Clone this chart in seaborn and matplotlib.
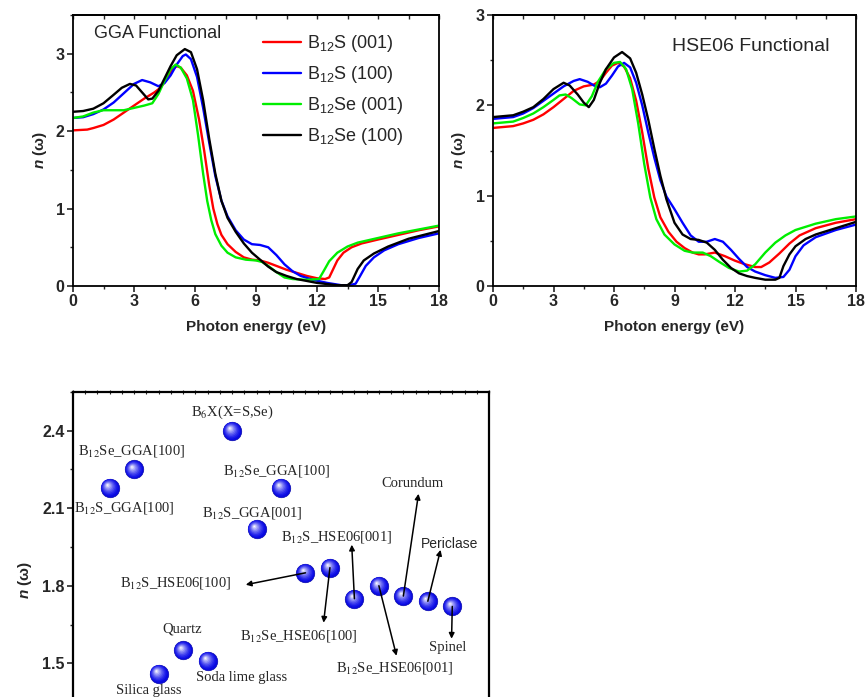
import numpy as np
import pandas as pd
import matplotlib
matplotlib.use("Agg")
import matplotlib.pyplot as plt
import seaborn as sns
from matplotlib.transforms import offset_copy
from matplotlib.ticker import MultipleLocator
from matplotlib.lines import Line2D

# ---------------- data ----------------
series_names = ["B$_{12}$S (001)", "B$_{12}$S (100)", "B$_{12}$Se (001)", "B$_{12}$Se (100)"]
series_colors = ["#ff0000", "#0000ff", "#00ee00", "#000000"]

# GGA functional
gga_red_x = [0, 0.7, 1.0, 1.5, 2.0, 2.5, 3.0, 3.5, 4.0, 4.3, 4.6, 4.9, 5.1, 5.3, 5.6, 5.9, 6.2, 6.45, 6.7, 6.9, 7.1, 7.3, 7.6, 8.0, 8.4, 8.8, 9.2, 9.6, 10, 10.5, 11, 11.5, 12, 12.4, 12.6, 12.8, 13.0, 13.3, 13.7, 14.2, 15, 16, 17, 18]
gga_red_y = [2.01, 2.02, 2.04, 2.08, 2.15, 2.24, 2.33, 2.42, 2.50, 2.56, 2.67, 2.80, 2.84, 2.82, 2.72, 2.52, 2.15, 1.75, 1.30, 1.00, 0.80, 0.66, 0.54, 0.44, 0.37, 0.34, 0.33, 0.30, 0.26, 0.21, 0.17, 0.13, 0.10, 0.09, 0.11, 0.22, 0.33, 0.43, 0.50, 0.55, 0.60, 0.66, 0.72, 0.77]
gga_blue_x = [0, 0.5, 1.0, 1.5, 2.0, 2.5, 3.0, 3.4, 3.8, 4.2, 4.5, 4.8, 5.1, 5.4, 5.55, 5.8, 6.1, 6.4, 6.7, 7.0, 7.3, 7.6, 8.0, 8.4, 8.8, 9.2, 9.6, 10.0, 10.4, 10.8, 11.2, 11.8, 12.5, 13.2, 13.6, 13.9, 14.1, 14.4, 14.8, 15.3, 16, 17, 18]
gga_blue_y = [2.17, 2.18, 2.22, 2.28, 2.37, 2.49, 2.61, 2.66, 2.63, 2.58, 2.62, 2.72, 2.86, 2.97, 2.99, 2.93, 2.70, 2.30, 1.85, 1.42, 1.10, 0.90, 0.72, 0.60, 0.54, 0.53, 0.50, 0.40, 0.28, 0.19, 0.13, 0.08, 0.04, 0.01, 0.01, 0.03, 0.12, 0.26, 0.37, 0.46, 0.54, 0.62, 0.68]
gga_green_x = [0, 0.5, 1.0, 1.5, 2.0, 2.5, 3.0, 3.5, 3.9, 4.2, 4.5, 4.8, 5.05, 5.3, 5.6, 5.9, 6.15, 6.4, 6.6, 6.8, 7.0, 7.3, 7.6, 8.0, 8.5, 9.0, 9.3, 9.6, 10, 10.4, 10.8, 11.5, 12.1, 12.3, 12.6, 13.0, 13.5, 14, 15, 16, 17, 18]
gga_green_y = [2.17, 2.19, 2.24, 2.27, 2.27, 2.27, 2.30, 2.33, 2.36, 2.48, 2.65, 2.80, 2.86, 2.82, 2.68, 2.40, 1.95, 1.45, 1.10, 0.85, 0.67, 0.52, 0.43, 0.37, 0.34, 0.33, 0.31, 0.26, 0.18, 0.11, 0.09, 0.08, 0.09, 0.18, 0.32, 0.43, 0.51, 0.56, 0.62, 0.68, 0.73, 0.78]
gga_black_x = [0, 0.5, 1.0, 1.5, 2.0, 2.4, 2.8, 3.1, 3.4, 3.7, 3.9, 4.2, 4.5, 4.8, 5.1, 5.5, 5.8, 6.1, 6.4, 6.7, 7.0, 7.3, 7.6, 8.0, 8.4, 8.8, 9.2, 9.6, 10.0, 10.5, 11, 12, 13, 13.5, 13.7, 14.0, 14.3, 14.8, 15.5, 16.5, 18]
gga_black_y = [2.25, 2.26, 2.29, 2.36, 2.47, 2.56, 2.61, 2.59, 2.50, 2.41, 2.42, 2.52, 2.68, 2.84, 2.98, 3.06, 3.02, 2.80, 2.40, 1.90, 1.45, 1.10, 0.88, 0.70, 0.55, 0.43, 0.34, 0.25, 0.18, 0.13, 0.09, 0.04, 0.01, 0.01, 0.05, 0.22, 0.33, 0.42, 0.51, 0.61, 0.71]

# HSE06 functional
hse_red_x = [0, 1, 1.5, 2, 2.5, 3, 3.5, 4.0, 4.5, 5.0, 5.3, 5.6, 5.9, 6.2, 6.5, 6.8, 7.1, 7.4, 7.7, 8.0, 8.3, 8.7, 9.1, 9.5, 9.9, 10.2, 10.5, 11.0, 11.5, 12.0, 12.5, 13.0, 13.3, 13.7, 14.2, 14.7, 15.2, 16, 17, 18]
hse_red_y = [1.75, 1.77, 1.80, 1.84, 1.90, 1.98, 2.07, 2.16, 2.21, 2.23, 2.27, 2.36, 2.44, 2.47, 2.43, 2.30, 2.05, 1.70, 1.30, 0.98, 0.76, 0.60, 0.49, 0.42, 0.37, 0.35, 0.35, 0.37, 0.33, 0.28, 0.24, 0.21, 0.21, 0.26, 0.36, 0.47, 0.56, 0.64, 0.70, 0.74]
hse_blue_x = [0, 1, 1.5, 2, 2.5, 3.0, 3.5, 4.0, 4.3, 4.7, 5.0, 5.3, 5.6, 5.9, 6.2, 6.5, 6.8, 7.1, 7.4, 7.7, 8.0, 8.3, 8.6, 9.0, 9.4, 9.8, 10.2, 10.6, 11.0, 11.4, 11.8, 12.2, 12.6, 13.0, 13.5, 14.0, 14.4, 14.7, 15.0, 15.4, 16, 17, 18]
hse_blue_y = [1.85, 1.87, 1.91, 1.97, 2.05, 2.13, 2.21, 2.27, 2.29, 2.26, 2.22, 2.20, 2.24, 2.33, 2.43, 2.47, 2.42, 2.25, 2.00, 1.70, 1.42, 1.17, 0.99, 0.85, 0.70, 0.56, 0.49, 0.49, 0.52, 0.49, 0.40, 0.30, 0.21, 0.16, 0.12, 0.09, 0.10, 0.18, 0.33, 0.45, 0.54, 0.62, 0.68]
hse_green_x = [0, 1, 1.5, 2, 2.5, 3.0, 3.3, 3.6, 3.9, 4.3, 4.6, 4.9, 5.2, 5.6, 6.0, 6.3, 6.6, 6.9, 7.2, 7.5, 7.8, 8.1, 8.5, 9.0, 9.5, 9.9, 10.4, 10.8, 11.2, 11.7, 12.2, 12.6, 13.0, 13.5, 14.0, 14.5, 15, 16, 17, 18]
hse_green_y = [1.80, 1.82, 1.86, 1.91, 1.98, 2.06, 2.11, 2.12, 2.08, 2.01, 2.00, 2.10, 2.26, 2.40, 2.47, 2.48, 2.40, 2.18, 1.80, 1.35, 0.98, 0.74, 0.57, 0.46, 0.39, 0.37, 0.37, 0.33, 0.27, 0.20, 0.16, 0.17, 0.24, 0.37, 0.48, 0.56, 0.62, 0.69, 0.74, 0.77]
hse_black_x = [0, 1, 1.5, 2, 2.5, 3.0, 3.5, 3.8, 4.2, 4.5, 4.75, 5.0, 5.3, 5.6, 6.0, 6.4, 6.8, 7.1, 7.4, 7.7, 8.0, 8.3, 8.6, 9.0, 9.4, 9.8, 10.2, 10.6, 11.0, 11.4, 11.8, 12.2, 12.6, 13.0, 13.5, 14.0, 14.2, 14.4, 14.7, 15.0, 15.5, 16, 17, 18]
hse_black_y = [1.87, 1.89, 1.93, 1.98, 2.07, 2.18, 2.25, 2.22, 2.12, 2.03, 1.98, 2.06, 2.25, 2.40, 2.53, 2.59, 2.52, 2.36, 2.12, 1.84, 1.52, 1.22, 0.96, 0.70, 0.57, 0.52, 0.51, 0.48, 0.40, 0.29, 0.20, 0.14, 0.11, 0.09, 0.07, 0.07, 0.09, 0.22, 0.35, 0.44, 0.52, 0.57, 0.64, 0.71]

# refractive-index comparison
mat_x = [1, 2, 3, 4, 5, 6, 7, 8, 9, 10, 11, 12, 13, 14, 15]
mat_n = [2.18, 2.25, 1.46, 1.55, 1.51, 2.40, 2.02, 2.18, 1.85, 1.87, 1.75, 1.80, 1.76, 1.74, 1.72]

# plain labels (text position only)
plain_labels = ["B$_{6}$X(X=S,Se)", "B$_{12}$Se_GGA[100]", "B$_{12}$S_GGA[100]", "B$_{12}$Se_GGA[100]",
                "B$_{12}$S_GGA[001]", "Quartz", "Soda lime glass", "Silica glass"]
plain_label_x = [6.0, 1.91, 1.58, 7.83, 6.81, 3.95, 6.40, 2.60]
plain_label_y = [2.47, 2.32, 2.10, 2.245, 2.083, 1.633, 1.444, 1.393]

# arrowed labels: point index, arrow head, label position
arrow_labels = ["B$_{12}$S_HSE06[100]", "B$_{12}$Se_HSE06[100]", "B$_{12}$S_HSE06[001]",
                "B$_{12}$Se_HSE06[001]", "Corundum", "Periclase", "Spinel"]
arrow_point = [9, 10, 11, 12, 13, 14, 15]
arrow_head_x = [6.56, 9.74, 10.89, 12.72, 13.62, 14.52, 14.97]
arrow_head_y = [1.804, 1.657, 1.959, 1.529, 2.156, 1.939, 1.595]
arrow_label_x = [3.70, 8.72, 10.28, 12.64, 13.38, 14.89, 14.81]
arrow_label_y = [1.81, 1.606, 1.99, 1.483, 2.195, 1.963, 1.56]

# ---------------- style ----------------
sns.set_theme(style="ticks")
plt.rcParams["font.family"] = ["Liberation Sans", "DejaVu Sans"]
plt.rcParams["mathtext.fontset"] = "custom"
plt.rcParams["mathtext.rm"] = "Liberation Sans"
plt.rcParams["mathtext.it"] = "Liberation Sans:italic:bold"
plt.rcParams["mathtext.bf"] = "Liberation Sans:bold"
plt.rcParams["axes.linewidth"] = 1.3
plt.rcParams["axes.edgecolor"] = "black"

def make_df(xs, ys):
    frames = []
    for name, x, y in zip(series_names, xs, ys):
        frames.append(pd.DataFrame({"energy": x, "n": y, "series": name}))
    return pd.concat(frames, ignore_index=True)

df_gga = make_df([gga_red_x, gga_blue_x, gga_green_x, gga_black_x],
                 [gga_red_y, gga_blue_y, gga_green_y, gga_black_y])
df_hse = make_df([hse_red_x, hse_blue_x, hse_green_x, hse_black_x],
                 [hse_red_y, hse_blue_y, hse_green_y, hse_black_y])

W, H = 866, 697
fig = plt.figure(figsize=(W / 100, H / 100), dpi=100)
ax1 = fig.add_axes([73 / W, 1 - 286 / H, (439 - 73) / W, (286 - 15) / H])
ax2 = fig.add_axes([493 / W, 1 - 286 / H, (856 - 493) / W, (286 - 15) / H])
ax3 = fig.add_axes([73 / W, 1 - 702 / H, (489 - 73) / W, (702 - 392) / H])

palette = dict(zip(series_names, series_colors))

for ax, df, ymax in [(ax1, df_gga, 3.5), (ax2, df_hse, 3.0)]:
    sns.lineplot(data=df, x="energy", y="n", hue="series", hue_order=series_names,
                 palette=palette, estimator=None, sort=False, linewidth=1.7,
                 legend=False, ax=ax)
    for ln in ax.lines:
        ln.set_solid_joinstyle("round")
    ax.set_xlim(0, 18)
    ax.set_ylim(0, ymax)
    ax.xaxis.set_major_locator(MultipleLocator(3))
    ax.xaxis.set_minor_locator(MultipleLocator(1.5))
    ax.yaxis.set_major_locator(MultipleLocator(1))
    ax.yaxis.set_minor_locator(MultipleLocator(0.5))
    ax.tick_params(which="major", direction="out", length=4, width=1.2, labelsize=11.5, pad=2)
    ax.tick_params(which="minor", direction="out", length=2.5, width=1.0)
    for lab in ax.get_xticklabels() + ax.get_yticklabels():
        lab.set_fontweight("bold")
    ax.set_xlabel("Photon energy (eV)", fontsize=11, fontweight="bold")
    ax.set_ylabel(r"$n$ (ω)", fontsize=11, fontweight="bold")
    ax.xaxis.set_label_coords(0.5, -0.125)
    sec = ax.secondary_xaxis("top")
    sec.xaxis.set_major_locator(MultipleLocator(1.5))
    sec.tick_params(direction="in", length=3, width=1.0, labeltop=False)
    for sp in ax.spines.values():
        sp.set_visible(True)

ax1.yaxis.set_label_coords(-0.065, 0.5)
ax2.yaxis.set_label_coords(-0.068, 0.5)

ax1.text(0.23, 0.93, "GGA Functional", transform=ax1.transAxes, fontsize=13,
         ha="center", va="center")
ax2.text(0.71, 0.885, "HSE06 Functional", transform=ax2.transAxes, fontsize=14,
         ha="center", va="center")

handles = [Line2D([], [], color=c, lw=1.7) for c in series_colors]
ax1.legend(handles, series_names, loc="upper left", bbox_to_anchor=(0.49, 0.972),
           frameon=False, fontsize=13, handlelength=2.1, handletextpad=0.3,
           labelspacing=0.55, borderaxespad=0.2)

# ---------------- bottom panel ----------------
df_mat = pd.DataFrame({"x": mat_x, "n": mat_n})
sns.scatterplot(data=df_mat, x="x", y="n", s=180, color="#0a0ae0", edgecolor="#0000a0",
                linewidth=0.4, ax=ax3, zorder=3)
nl = 9
for i in range(1, nl):
    t = i / (nl - 1)
    size = 180 * (1 - 0.93 * t) ** 2
    col = np.array([0.04, 0.04, 0.88]) * (1 - t ** 1.4) + np.array([1, 1, 1]) * t ** 1.4
    col[2] = min(1.0, 0.9 + 0.1 * t)
    tr = offset_copy(ax3.transData, fig=fig, x=-1.6 * t, y=1.8 * t, units="points")
    ax3.scatter(mat_x, mat_n, s=size, color=col, edgecolor="none", transform=tr, zorder=3 + i)

ax3.set_xlim(-0.5, 16.5)
ax3.set_ylim(1.35, 2.55)
ax3.yaxis.set_minor_locator(MultipleLocator(0.15))
ax3.set_yticks([1.5, 1.8, 2.1, 2.4])
ax3.set_yticklabels(["1.5", "1.8", "2.1", "2.4"])
ax3.tick_params(axis="y", which="major", direction="out", length=4, width=1.2, labelsize=11.5, pad=2)
ax3.tick_params(axis="y", which="minor", direction="out", length=2.5, width=1.0)
ax3.tick_params(axis="x", bottom=False, labelbottom=False)
for lab in ax3.get_yticklabels():
    lab.set_fontweight("bold")
ax3.set_xlabel("")
ax3.set_ylabel(r"$n$ (ω)", fontsize=11, fontweight="bold")
ax3.yaxis.set_label_coords(-0.094, 0.394)
sec3 = ax3.secondary_xaxis("top")
sec3.xaxis.set_major_locator(MultipleLocator(0.5))
sec3.tick_params(direction="inout", length=3, width=0.8, labeltop=False)
for sp in ax3.spines.values():
    sp.set_visible(True)
    sp.set_linewidth(1.6)

serif = dict(family=["Liberation Serif", "DejaVu Serif"], fontsize=10.5, math_fontfamily="stix",
             ha="center", va="center")
for lab, x, y in zip(plain_labels, plain_label_x, plain_label_y):
    ax3.text(x, y, lab, zorder=20, **serif)

for lab, p, hx, hy, lx, ly in zip(arrow_labels, arrow_point, arrow_head_x, arrow_head_y,
                                  arrow_label_x, arrow_label_y):
    px = mat_x[p - 1]
    py = mat_n[p - 1]
    ax3.annotate("", xy=(hx, hy), xytext=(px, py),
                 arrowprops=dict(arrowstyle="-|>", color="black", lw=1.1,
                                 mutation_scale=8, shrinkA=0, shrinkB=0), zorder=25)
    if lab == "Periclase":
        ax3.text(lx, ly, lab, fontsize=10, ha="center", va="center", zorder=20,
                 family=["Liberation Sans", "DejaVu Sans"])
    else:
        ax3.text(lx, ly, lab, zorder=20, **serif)

fig.savefig("out.png", dpi=100)
